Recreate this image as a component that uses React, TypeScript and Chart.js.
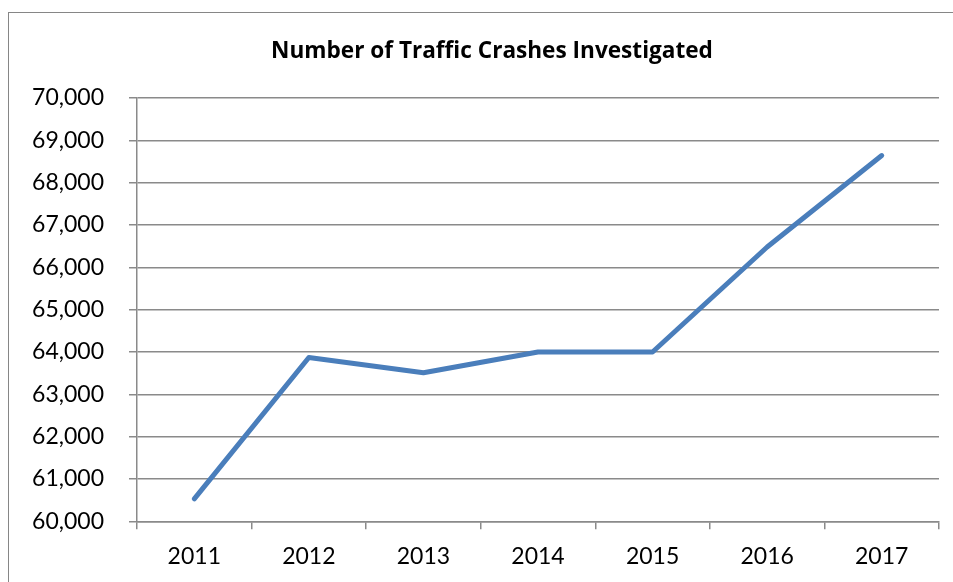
import React, { useEffect, useRef } from "react";
import { Chart, registerables } from "chart.js";

Chart.register(...registerables);

const title = "Number of Traffic Crashes Investigated";
const years = ["2011", "2012", "2013", "2014", "2015", "2016", "2017"];
const crashes = [60530, 63870, 63510, 64000, 64000, 66480, 68640];
const yMin = 60000;
const yMax = 70000;
const yStep = 1000;

const FONT = "Lato";
const TITLE_FONT = "'Open Sans'";

const titlePlugin = {
  id: "centeredTitle",
  afterDraw(chart: any) {
    const ctx = chart.ctx;
    ctx.save();
    ctx.fillStyle = "#000";
    ctx.font = `bold 22.6px ${TITLE_FONT}`;
    ctx.textAlign = "center";
    ctx.textBaseline = "middle";
    ctx.fillText(title, 492, 52);
    ctx.restore();
  },
};

export default function App() {
  const ref = useRef<HTMLCanvasElement | null>(null);

  useEffect(() => {
    if (!ref.current) return;
    const chart = new Chart(ref.current, {
      type: "line",
      data: {
        labels: years,
        datasets: [
          {
            data: crashes,
            borderColor: "#4a7ebb",
            borderWidth: 5,
            borderCapStyle: "round",
            borderJoinStyle: "round",
            pointRadius: 0,
            tension: 0,
            fill: false,
          },
        ],
      },
      plugins: [titlePlugin],
      options: {
        animation: false,
        responsive: false,
        maintainAspectRatio: false,
        layout: { padding: { left: 0, right: 14, top: 98, bottom: 0 } },
        plugins: {
          legend: { display: false },
          tooltip: { enabled: false },
          title: { display: false },
        },
        scales: {
          x: {
            offset: true,
            grid: {
              offset: true,
              drawOnChartArea: false,
              drawTicks: true,
              tickLength: 8,
              color: "#8a8a8a",
              lineWidth: 1.5,
            },
            border: { display: true, color: "#8a8a8a", width: 1.5 },
            ticks: {
              color: "#000",
              font: { family: FONT, size: 23 },
              padding: 13,
              maxRotation: 0,
            },
            afterFit: (s: any) => {
              s.height = 60.7;
            },
          },
          y: {
            min: yMin,
            max: yMax,
            grid: {
              drawOnChartArea: true,
              drawTicks: true,
              tickLength: 8,
              color: "#8a8a8a",
              lineWidth: 1.5,
            },
            border: { display: true, color: "#8a8a8a", width: 1.5 },
            ticks: {
              stepSize: yStep,
              color: "#000",
              font: { family: FONT, size: 23 },
              padding: 25,
              callback: (v: any) => Number(v).toLocaleString("en-US"),
            },
            afterFit: (s: any) => {
              s.width = 137;
            },
          },
        },
      },
    });
    return () => chart.destroy();
  }, []);

  return (
    <div
      style={{
        position: "fixed",
        left: 0,
        top: 0,
        width: 953,
        height: 582,
        overflow: "hidden",
        background: "#fff",
      }}
    >
      <div
        style={{
          position: "absolute",
          left: 8,
          top: 12,
          width: 1000,
          height: 700,
          border: "1.5px solid #868686",
          boxSizing: "border-box",
        }}
      />
      <canvas
        ref={ref}
        width={953}
        height={582}
        style={{ position: "absolute", left: 0, top: 0, width: 953, height: 582 }}
      />
    </div>
  );
}
